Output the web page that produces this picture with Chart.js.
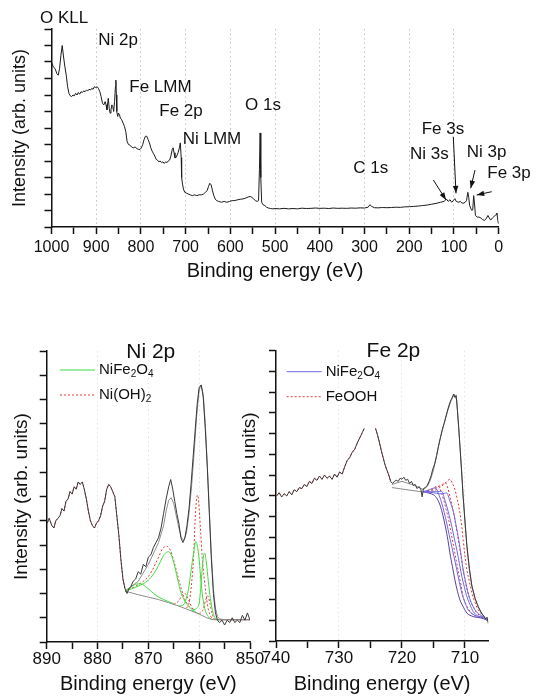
<!DOCTYPE html>
<html>
<head>
<meta charset="utf-8">
<script src="https://cdn.jsdelivr.net/npm/chart.js@4.4.0/dist/chart.umd.min.js"></script>
<style>
  body { margin: 0; background: #fff; }
  #wrap { position: relative; width: 540px; height: 699px; overflow: hidden; }
  canvas { position: absolute; }
  #survey { left: 0; top: 0; }
  #ni { left: 0; top: 330px; }
  #fe { left: 230px; top: 330px; }
</style>
</head>
<body>
<div id="wrap">
  <canvas id="survey" width="540" height="300"></canvas>
  <canvas id="ni" width="270" height="369"></canvas>
  <canvas id="fe" width="310" height="369"></canvas>
</div>
<script>
var FONT = "'Liberation Sans', Arial, sans-serif";
Chart.defaults.font.family = FONT;
Chart.defaults.color = '#111';
Chart.defaults.animation = false;

// ---- survey scan, [binding energy (eV), intensity]
var survey = [[1000,10.0],[996,9.7],[992,9.6],[988,9.3],[985,9.2],[982,9.6],[979,10.4],[976,11.0],[973,10.3],[970,9.7],[967,9.2],[964,8.5],[961,8.1],[958,7.95],[955,7.9],[952,8.0],[949,7.95],[946,8.1],[943,8.0],[940,8.15],[937,8.05],[934,8.2],[931,8.15],[928,8.25],[925,8.2],[922,8.3],[919,8.25],[916,8.35],[913,8.3],[910,8.4],[907,8.35],[904,8.5],[901,8.45],[898,8.5],[895,8.4],[892,8.2],[889,7.9],[886,7.5],[883,7.4],[880,7.6],[878,7.4],[876,7.1],[874,7.6],[873,7.8],[871,7.2],[869,6.9],[867,7.1],[865,7.4],[863,7.3],[861,7.0],[859,7.6],[857,8.5],[856,8.9],[855,8.0],[854,7.0],[852,6.7],[850,6.9],[848,6.8],[846,6.6],[843,6.5],[840,6.3],[837,6.1],[834,5.8],[831,5.2],[828,5.0],[824,4.95],[821,4.85],[817,4.8],[813,4.85],[809,4.75],[805,4.7],[802,4.7],[799,4.8],[796,5.0],[793,5.3],[790,5.5],[787,5.5],[784,5.3],[781,5.1],[778,4.8],[775,4.6],[772,4.45],[769,4.3],[766,4.1],[763,4.05],[760,3.95],[757,4.0],[754,3.9],[751,3.95],[748,3.85],[745,3.95],[742,3.9],[739,4.0],[736,4.05],[733,4.3],[730,4.7],[728,4.8],[726,4.5],[724,4.2],[722,4.2],[720,4.3],[717,4.5],[714,4.8],[712,5.1],[710,4.2],[709,3.0],[707,2.6],[705,2.3],[702,2.1],[698,2.05],[694,2.0],[690,1.95],[685,1.9],[680,1.95],[675,1.9],[670,1.95],[665,1.95],[660,2.0],[656,2.1],[652,2.2],[649,2.45],[646,2.65],[643,2.55],[640,2.2],[637,1.9],[634,1.7],[631,1.6],[626,1.55],[620,1.5],[614,1.55],[608,1.5],[602,1.55],[596,1.6],[590,1.6],[584,1.65],[578,1.68],[572,1.7],[566,1.75],[560,1.82],[556,1.85],[552,1.8],[548,1.7],[544,1.6],[540,1.55],[537,1.6],[535,3.5],[533.5,5.7],[532,3.0],[530,1.5],[527,1.35],[523,1.3],[519,1.2],[515,1.15],[510,1.12],[505,1.1],[500,1.12],[490,1.1],[480,1.13],[470,1.1],[460,1.12],[450,1.1],[440,1.14],[430,1.12],[420,1.13],[410,1.15],[400,1.13],[390,1.14],[380,1.12],[370,1.15],[360,1.13],[350,1.14],[340,1.13],[330,1.15],[320,1.14],[310,1.16],[300,1.15],[292,1.2],[288,1.35],[284,1.25],[278,1.17],[270,1.16],[260,1.18],[250,1.17],[240,1.18],[230,1.2],[220,1.19],[210,1.22],[200,1.23],[190,1.25],[180,1.27],[170,1.3],[160,1.33],[150,1.38],[140,1.43],[130,1.5],[122,1.55],[117,1.7],[113,1.55],[109,1.65],[105,1.5],[101,1.62],[98,1.72],[95,1.55],[90,1.5],[86,1.55],[82,1.45],[78,1.45],[75,1.5],[72,1.6],[69,2.1],[67,1.8],[65,1.3],[62,1.1],[60,1.0],[58,1.05],[56,1.9],[54,1.4],[52,0.7],[48,0.6],[44,0.6],[40,0.55],[36,0.45],[32,0.4],[28,0.5],[24,0.7],[21,0.55],[18,0.42],[14,0.55],[10,0.65],[6,0.75],[4,0.85],[2,0.4],[0.5,0.2]];

var peakNames = ['O KLL', 'Ni 2p', 'Fe LMM', 'Fe 2p', 'Ni LMM', 'O 1s', 'C 1s', 'Fe 3s', 'Ni 3s', 'Ni 3p', 'Fe 3p'];
// where each name starts (eV, intensity)
var peakLabelAt = [[1025.6,12.65],[895.3,11.29],[826,8.47],[759,6.99],[706.6,5.31],[567.3,7.39],[325.1,3.56],[172.2,5.92],[198.3,4.42],[71.6,4.52],[25.5,3.25]];
// arrows from label to peak: [eV0, I0, eV1, I1]
var peakArrows = [[146.2,2.85,117.8,1.64],[101.5,5.47,95.5,2.04],[53,3.45,62.6,2.35],[15.7,2.14,49.2,1.94]];

// ---- Ni 2p region
var niExp = [[889.9,4.9],[889.5,5.1],[889.0,4.8],[888.6,4.7],[888.2,5.0],[887.8,5.1],[887.4,5.2],[887.0,5.5],[886.6,5.4],[886.2,5.8],[885.8,5.9],[885.4,6.2],[885.0,6.1],[884.6,6.4],[884.2,6.3],[883.8,6.6],[883.4,6.5],[883.0,6.6],[882.6,6.3],[882.2,5.9],[881.8,5.4],[881.4,5.0],[881.0,4.8],[880.6,4.7],[880.2,4.9],[879.8,5.0],[879.4,5.2],[879.0,5.6],[878.6,5.8],[878.2,6.3],[877.8,6.5],[877.4,6.4],[877.0,6.2],[876.6,6.0],[876.2,5.2],[875.8,4.4],[875.4,3.4],[875.0,2.6],[874.6,2.2],[874.2,2.0],[873.8,2.2],[873.4,2.3],[873.0,2.5],[872.5,2.6],[872.0,2.9],[871.5,2.8],[871.0,3.2],[870.5,3.1],[870.0,3.5],[869.5,3.6],[869.0,3.9],[868.5,4.1],[868.0,4.3],[867.5,4.7],[867.0,5.3],[866.5,5.9],[866.0,6.4],[865.6,6.7],[865.2,6.3],[864.8,5.8],[864.4,5.3],[864.0,4.9],[863.6,4.3],[863.2,4.1],[862.8,4.3],[862.4,4.8],[862.0,5.5],[861.6,6.5],[861.2,7.6],[860.8,8.7],[860.4,9.8],[860.0,10.5],[859.6,10.6],[859.2,10.1],[858.8,8.8],[858.4,7.2],[858.0,5.3],[857.6,3.4],[857.2,2.0],[856.8,1.2],[856.4,0.9],[856.0,0.8],[855.5,0.9],[855.0,0.7],[854.5,0.9],[854.0,0.8],[853.5,1.0],[853.0,0.8],[852.5,0.9],[852.0,0.8],[851.5,1.1],[851.0,0.9],[850.5,1.2],[850.0,0.9]];
var niEnvelope = [[874.6,2.1],[872,2.5],[870,3.2],[868,4.1],[867,4.8],[866.5,5.4],[866,5.85],[865.5,5.95],[865,5.7],[864.5,5.2],[864,4.7],[863.5,4.3],[863,4.2],[862.5,4.5],[862,5.3],[861.5,6.4],[861,7.8],[860.5,9.3],[860,10.4],[859.6,10.6],[859.2,10.2],[858.8,9.0],[858.4,7.3],[858,5.4],[857.6,3.6],[857.2,2.2],[856.8,1.4],[856.4,1.05],[856,0.95],[855,0.92],[850,0.92]];
var niBackground = [[874.6,2.1],[872,1.95],[870,1.85],[868,1.75],[866,1.62],[864,1.48],[862,1.32],[860,1.15],[858.5,1.0],[857.5,0.93],[856,0.92],[850,0.92]];
var niFe2O4Peaks = [
  [[874.6,2.1],[873.5,2.25],[872.5,2.38],[871.5,2.4],[870.5,2.28],[869.5,2.1],[868.5,1.92],[867,1.75],[865,1.58]],
  [[874.6,2.1],[872,2.3],[870,2.55],[869,2.8],[868,3.15],[867.2,3.5],[866.6,3.68],[866,3.72],[865.4,3.55],[864.8,3.1],[864.2,2.55],[863.6,2.05],[863,1.75],[862.2,1.5],[861,1.28],[860,1.15]],
  [[864,1.48],[863,1.55],[862.4,1.9],[862,2.3],[861.5,3.1],[861,3.8],[860.7,4.14],[860.4,4.0],[860,3.4],[859.6,2.4],[859.2,1.7],[858.8,1.3],[858.2,1.05],[857.5,0.93],[856.5,0.92]],
  [[861.5,1.3],[860.5,1.4],[860,1.6],[859.7,2.2],[859.4,3.0],[859.1,3.6],[858.9,3.66],[858.6,3.3],[858.2,2.5],[857.8,1.8],[857.4,1.3],[857,1.05],[856.5,0.93],[855.5,0.92]]
];
var niOH2Peaks = [
  [[874.6,2.1],[872.5,2.3],[871,2.5],[870,2.7],[869,3.05],[868,3.5],[867.2,3.85],[866.4,3.95],[865.6,3.75],[865,3.35],[864.3,2.8],[863.6,2.25],[863,1.85],[862.3,1.55],[861.5,1.35]],
  [[862.5,1.4],[862,1.6],[861.5,2.4],[861.1,3.5],[860.8,5.0],[860.5,5.9],[860.3,6.06],[860,5.5],[859.7,4.5],[859.4,3.5],[859,2.6],[858.6,1.9],[858.2,1.35],[857.7,1.05],[857,0.93],[856,0.92]],
  [[865,1.55],[864,1.7],[863.3,1.95],[862.8,2.0],[862.2,1.8],[861.5,1.45],[861,1.3]],
  [[860,1.15],[859.2,1.35],[858.7,1.75],[858.3,1.9],[857.9,1.6],[857.4,1.15],[857,0.95],[856.3,0.92]]
];

// ---- Fe 2p region (null = no data)
var feExp = [[739.9,7.0],[739.5,7.15],[739.1,6.95],[738.7,7.1],[738.3,7.0],[737.9,7.2],[737.5,7.05],[737.1,7.3],[736.7,7.2],[736.3,7.4],[735.9,7.35],[735.5,7.55],[735.1,7.45],[734.7,7.7],[734.3,7.6],[733.9,7.85],[733.5,7.75],[733.1,7.95],[732.7,7.8],[732.3,8.0],[731.9,7.85],[731.5,7.95],[731.1,7.8],[730.7,8.05],[730.3,7.9],[729.9,8.15],[729.5,8.05],[729.1,8.4],[728.7,8.7],[728.3,8.85],[727.9,9.1],[727.5,9.25],[727.1,9.55],[726.7,9.8],[726.3,10.05],[726.0,10.25],[725.8,null],[724.2,10.25],[723.9,9.95],[723.6,9.6],[723.3,9.2],[723.0,8.85],[722.7,8.5],[722.4,8.25],[722.1,8.0],[721.8,7.7],[721.5,7.6],[721.2,7.7],[720.9,7.75],[720.6,7.7],[720.3,7.85],[720.0,7.8],[719.7,7.9],[719.4,7.75],[719.1,7.8],[718.8,7.6],[718.5,7.7],[718.2,7.5],[717.9,7.55],[717.6,7.35],[717.3,7.45],[717.0,7.3],[716.8,6.95],[716.6,7.35],[716.3,7.4],[716.0,7.5],[715.7,7.7],[715.4,7.95],[715.1,8.3],[714.8,8.55],[714.5,8.95],[714.2,9.4],[713.9,9.8],[713.6,10.2],[713.3,10.5],[713.0,10.85],[712.7,11.2],[712.4,11.5],[712.1,11.7],[711.8,11.9],[711.6,11.75],[711.4,11.85],[711.2,11.1],[711.0,10.3],[710.8,9.4],[710.55,8.2],[710.3,7.0],[710.0,5.75],[709.7,4.6],[709.3,3.5],[708.9,2.65],[708.4,2.05],[707.9,1.65],[707.4,1.35],[707.0,1.2],[706.7,1.05],[706.5,1.15],[706.3,0.85]];
var feEnvelope = [[721.6,7.55],[720,7.7],[718,7.5],[716.6,7.3],[716,7.45],[715.5,7.75],[715,8.25],[714.5,8.95],[714,9.7],[713.4,10.4],[712.8,11.05],[712.2,11.6],[711.7,11.9],[711.3,11.6],[710.8,9.4],[710.5,8.1],[710.3,7.0],[710,5.8],[709.7,4.56],[709.3,3.4],[708.9,2.63],[708.4,2.05],[707.9,1.66],[707.3,1.3],[706.8,1.1],[706.4,0.95]];
var feBackground = [[721.6,7.4],[716.6,7.18]];
var feNiFe2O4Peaks = [
  [[716.6,7.2],[715.6,7.12],[715,7.05],[714.4,6.85],[713.9,6.5],[713.5,6.05],[713.1,5.5],[712.7,4.85],[712.4,4.25],[712,3.6],[711.6,2.95],[711.2,2.4],[710.8,1.98],[710.2,1.6],[709.7,1.35],[708.7,1.18],[707.3,1.1],[706.5,1.0]],
  [[716.6,7.2],[715.6,7.3],[714.7,7.39],[714.2,7.1],[713.7,6.66],[713.3,6.2],[712.9,5.69],[712.5,5.1],[712.1,4.56],[711.7,4.0],[711.3,3.43],[710.9,2.85],[710.5,2.31],[710,1.85],[709.5,1.5],[708.8,1.3],[708.1,1.2],[707.2,1.12],[706.5,1.0]],
  [[716.6,7.2],[715.2,7.2],[714.3,7.2],[713.7,7.22],[713.3,6.9],[712.9,6.5],[712.5,6.05],[712.1,5.53],[711.7,4.95],[711.3,4.4],[710.9,3.75],[710.5,3.11],[710.1,2.6],[709.7,2.14],[709.2,1.75],[708.7,1.42],[708,1.22],[707.3,1.15],[706.5,1.0]],
  [[716.6,7.2],[715,7.15],[714,7.1],[713.3,7.12],[712.9,7.14],[712.4,6.75],[711.8,6.18],[711.4,5.55],[711,4.89],[710.6,4.1],[710.3,3.43],[709.9,2.85],[709.5,2.31],[709,1.85],[708.4,1.5],[707.7,1.28],[707,1.15],[706.5,1.0]]
];
var feOOHPeaks = [
  [[716.6,7.2],[715.5,7.3],[714.8,7.42],[714.2,7.47],[713.8,7.2],[713.4,6.82],[713,6.35],[712.6,5.85],[712.2,5.2],[711.8,4.56],[711.4,3.9],[711,3.27],[710.6,2.65],[710.3,2.14],[709.8,1.75],[709.2,1.42],[708.6,1.25],[707.9,1.15],[707,1.08]],
  [[716.6,7.2],[715.5,7.25],[714.5,7.4],[713.6,7.55],[713.1,7.63],[712.7,7.35],[712.4,6.98],[712,6.45],[711.6,5.85],[711.2,5.15],[710.8,4.4],[710.4,3.65],[710,2.95],[709.6,2.4],[709.2,1.98],[708.6,1.6],[708.1,1.34],[707.4,1.2],[706.8,1.1]],
  [[716.6,7.2],[715,7.25],[714,7.4],[713.2,7.6],[712.7,7.75],[712.4,7.79],[712,7.6],[711.6,7.31],[711.2,6.8],[710.8,6.18],[710.5,5.5],[710.3,4.89],[710,4.1],[709.7,3.43],[709.3,2.85],[708.9,2.31],[708.4,1.85],[707.9,1.5],[707.2,1.25],[706.6,1.1]]
];

var GREEN = '#3fdc3f', RED = '#e03a3a', BLUE = '#6b6be8', DATA = '#3a3a3a', FIT = '#8c8c8c';

function line(data, color, opts) {
  var ds = { data: data, borderColor: color, borderWidth: 1, pointRadius: 0, fill: false, spanGaps: false, tension: 0 };
  for (var k in opts) ds[k] = opts[k];
  return ds;
}
function smooth(data, color, dotted) {
  return line(data, color, { cubicInterpolationMode: 'monotone', borderDash: dotted ? [2, 2] : [] });
}

function isMajor(v, major) {
  return Math.abs(v / major - Math.round(v / major)) < 1e-6;
}

function xAxis(o) {
  return {
    type: 'linear', reverse: true, min: o.min, max: o.max,
    afterFit: function (s) { s.height = o.height; },
    ticks: {
      stepSize: o.step, includeBounds: false, autoSkip: false, maxRotation: 0, minRotation: 0,
      padding: o.pad, color: '#111', font: { size: o.tickSize },
      callback: function (v) { return isMajor(v, o.major) ? v : ''; }
    },
    grid: {
      drawOnChartArea: true, lineWidth: 1, tickLength: 7, tickWidth: 1.5, tickColor: '#111',
      color: function (c) {
        var v = c.tick ? c.tick.value : NaN;
        return (isMajor(v, o.major) && v > o.min && v < o.max) ? o.gridColor : 'rgba(0,0,0,0)';
      }
    },
    border: { display: true, color: '#111', width: 1.5, dash: [1.5, 3] },
    title: { display: true, text: 'Binding energy (eV)', color: '#111', font: { size: o.titleSize }, padding: { top: 0, bottom: o.titlePad } }
  };
}

function yAxis(o) {
  return {
    type: 'linear', min: 0, max: o.max,
    afterFit: function (s) { s.width = o.width; },
    ticks: { stepSize: 1, display: false },
    grid: { drawOnChartArea: false, tickLength: 7, tickWidth: 1.5, tickColor: '#111' },
    border: { display: true, color: '#111', width: 1.5 },
    title: { display: true, text: 'Intensity (arb. units)', color: '#111', font: { size: o.titleSize }, padding: { top: o.titlePad, bottom: 0 } }
  };
}

// text with "_n" subscripts
function drawRich(ctx, text, x, y, size) {
  var parts = text.split(/_(\d)/);
  for (var i = 0; i < parts.length; i++) {
    if (!parts[i]) continue;
    var sub = i % 2 === 1;
    ctx.font = (sub ? Math.round(size * 0.65) : size) + 'px ' + FONT;
    ctx.fillText(parts[i], x, sub ? y + size * 0.3 : y);
    x += ctx.measureText(parts[i]).width;
  }
}

var surveyMarks = {
  id: 'surveyMarks',
  afterDraw: function (chart) {
    var ctx = chart.ctx, xs = chart.scales.x, ys = chart.scales.y;
    ctx.save();
    ctx.fillStyle = '#111';
    ctx.strokeStyle = '#111';
    ctx.lineWidth = 1;
    ctx.textAlign = 'left';
    ctx.textBaseline = 'middle';
    ctx.font = '17px ' + FONT;
    peakNames.forEach(function (name, i) {
      ctx.fillText(name, xs.getPixelForValue(peakLabelAt[i][0]), ys.getPixelForValue(peakLabelAt[i][1]));
    });
    peakArrows.forEach(function (a) {
      var x0 = xs.getPixelForValue(a[0]), y0 = ys.getPixelForValue(a[1]);
      var x1 = xs.getPixelForValue(a[2]), y1 = ys.getPixelForValue(a[3]);
      var ang = Math.atan2(y1 - y0, x1 - x0);
      ctx.beginPath(); ctx.moveTo(x0, y0); ctx.lineTo(x1, y1); ctx.stroke();
      ctx.beginPath();
      ctx.moveTo(x1, y1);
      ctx.lineTo(x1 - 8 * Math.cos(ang - 0.35), y1 - 8 * Math.sin(ang - 0.35));
      ctx.lineTo(x1 - 8 * Math.cos(ang + 0.35), y1 - 8 * Math.sin(ang + 0.35));
      ctx.closePath(); ctx.fill();
    });
    ctx.restore();
  }
};

// panel title + legend drawn inside the plot area
var panelText = {
  id: 'panelText',
  afterDraw: function (chart, args, o) {
    var ctx = chart.ctx, a = chart.chartArea;
    ctx.save();
    ctx.fillStyle = '#111';
    ctx.textBaseline = 'middle';
    ctx.textAlign = 'center';
    ctx.font = '21px ' + FONT;
    ctx.fillText(o.title, a.left + (a.right - a.left) * o.titleAt, a.top + 1);
    ctx.textAlign = 'left';
    o.legend.forEach(function (item, i) {
      var ds = chart.data.datasets[item.dataset];
      var y = a.top + o.legendTop + i * 25;
      ctx.strokeStyle = ds.borderColor;
      ctx.lineWidth = 1;
      ctx.setLineDash(ds.borderDash || []);
      ctx.beginPath();
      ctx.moveTo(a.left + o.legendLeft, y);
      ctx.lineTo(a.left + o.legendLeft + 35, y);
      ctx.stroke();
      ctx.setLineDash([]);
      drawRich(ctx, item.text, a.left + o.legendLeft + 39, y, 15);
    });
    ctx.restore();
  }
};

new Chart(document.getElementById('survey'), {
  type: 'line',
  data: { datasets: [line(survey, '#1c1c1c', {})] },
  options: {
    responsive: false,
    layout: { padding: { left: 0, top: 29, right: 41.3, bottom: 0 } },
    plugins: { legend: { display: false }, tooltip: { enabled: false } },
    scales: {
      x: xAxis({ min: 0, max: 1000, step: 50, major: 100, height: 73, pad: 4, tickSize: 16, titleSize: 20, titlePad: 17, gridColor: '#c4c4c4' }),
      y: yAxis({ max: 12, width: 51.5, titleSize: 18, titlePad: 9 })
    }
  },
  plugins: [surveyMarks]
});

var niSets = [
  line(niExp, DATA, {}),
  line(niEnvelope, FIT, {}),
  line(niBackground, FIT, {}),
  smooth(niFe2O4Peaks[0], GREEN, false),
  smooth(niFe2O4Peaks[1], GREEN, false),
  smooth(niFe2O4Peaks[2], GREEN, false),
  smooth(niFe2O4Peaks[3], GREEN, false),
  line(niExp.filter(function (p) { return p[0] >= 874.6; }), RED, { borderDash: [2, 2] }),
  line(niBackground.filter(function (p) { return p[0] <= 857.5; }), RED, {}),
  smooth(niOH2Peaks[0], RED, true),
  smooth(niOH2Peaks[1], RED, true),
  smooth(niOH2Peaks[2], RED, true),
  smooth(niOH2Peaks[3], RED, true)
];

new Chart(document.getElementById('ni'), {
  type: 'line',
  data: { datasets: niSets },
  options: {
    responsive: false,
    layout: { padding: { left: 0, top: 21, right: 20, bottom: 0 } },
    plugins: {
      legend: { display: false }, tooltip: { enabled: false },
      panelText: { title: 'Ni 2p', titleAt: 0.512, legendLeft: 13.3, legendTop: 19,
        legend: [{ dataset: 3, text: 'NiFe_2O_4' }, { dataset: 9, text: 'Ni(OH)_2' }] }
    },
    scales: {
      x: xAxis({ min: 850, max: 890, step: 5, major: 10, height: 57, pad: 0, tickSize: 17, titleSize: 20, titlePad: 3, gridColor: '#e4e4e4' }),
      y: yAxis({ max: 12, width: 46.7, titleSize: 19, titlePad: 10 })
    }
  },
  plugins: [panelText]
});

var feSets = [
  line(feExp, DATA, {}),
  line(feEnvelope, FIT, {}),
  line(feBackground, FIT, {}),
  smooth(feNiFe2O4Peaks[1], BLUE, false),
  smooth(feNiFe2O4Peaks[2], BLUE, false),
  smooth(feNiFe2O4Peaks[3], BLUE, false),
  smooth(feNiFe2O4Peaks[0], '#5a3f9a', false),
  line(feExp.filter(function (p) { return p[0] >= 721.8; }), RED, { borderDash: [2, 2] }),
  smooth(feOOHPeaks[0], RED, true),
  smooth(feOOHPeaks[1], RED, true),
  smooth(feOOHPeaks[2], RED, true)
];

new Chart(document.getElementById('fe'), {
  type: 'line',
  data: { datasets: feSets },
  options: {
    responsive: false,
    layout: { padding: { left: 0, top: 20.7, right: 51.7, bottom: 0 } },
    plugins: {
      legend: { display: false }, tooltip: { enabled: false },
      panelText: { title: 'Fe 2p', titleAt: 0.553, legendLeft: 10.7, legendTop: 21,
        legend: [{ dataset: 3, text: 'NiFe_2O_4' }, { dataset: 8, text: 'FeOOH' }] }
    },
    scales: {
      x: xAxis({ min: 706.3, max: 740, step: 5, major: 10, height: 58, pad: 0, tickSize: 17, titleSize: 20, titlePad: 3, gridColor: '#e4e4e4' }),
      y: yAxis({ max: 14, width: 46, titleSize: 19, titlePad: 8.6 })
    }
  },
  plugins: [panelText]
});
</script>
</body>
</html>
